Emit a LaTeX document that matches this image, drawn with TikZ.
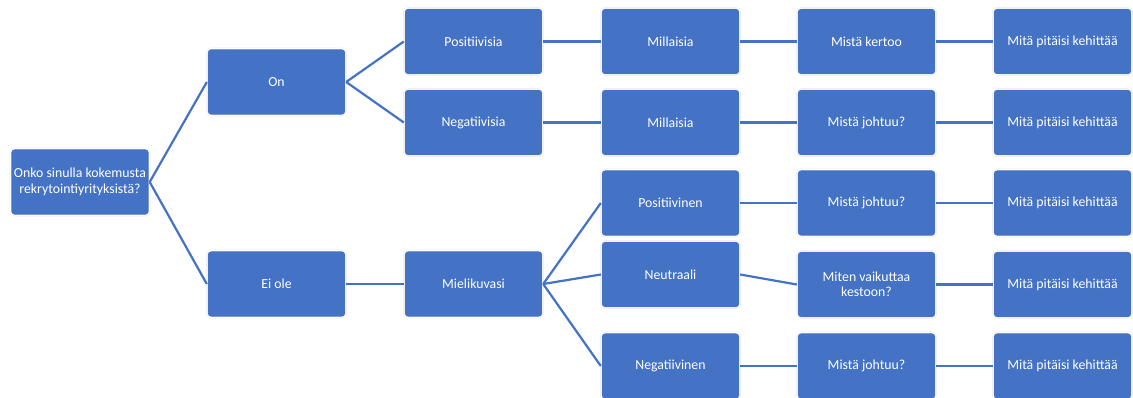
\documentclass[tikz,border=0pt]{standalone}
\usepackage{fontspec}
\setmainfont{Carlito}
\definecolor{boxblue}{HTML}{4472C4}
\tikzset{
    box/.style={rectangle, rounded corners=4pt, fill=boxblue, draw=gray!18, double=white, double distance=0.8pt,
        minimum width=139pt, minimum height=67pt, text=white, align=center, font=\fontsize{13.8}{15.5}\selectfont, inner sep=2pt},
    link/.style={draw=boxblue, line width=2.2pt}
}
\begin{document}
\begin{tikzpicture}[x=1pt, y=-1pt]
    \useasboundingbox (0, 0) rectangle (1133, 397);
    \node[box] (root) at (80, 182) {Onko sinulla kokemusta\\rekrytointiyrityksistä?};
    \node[box] (on) at (276.5, 82) {On};
    \node[box] (eiole) at (276.5, 284) {Ei ole};
    \node[box] (pos) at (473.5, 41.5) {Positiivisia};
    \node[box] (neg) at (473.5, 122.5) {Negatiivisia};
    \node[box] (mieli) at (473.5, 284) {Mielikuvasi};
    \node[box] (millpos) at (670.5, 41.5) {Millaisia};
    \node[box] (millneg) at (670.5, 122.5) {Millaisia};
    \node[box] (positiivinen) at (670.5, 203) {Positiivinen};
    \node[box] (neutraali) at (670.5, 274.5) {Neutraali};
    \node[box] (negatiivinen) at (670.5, 366) {Negatiivinen};
    \node[box] (kertoo) at (866.5, 41.5) {Mistä kertoo};
    \node[box] (johtuuneg) at (866.5, 122.5) {Mistä johtuu?};
    \node[box] (johtuupos) at (866.5, 203) {Mistä johtuu?};
    \node[box] (kesto) at (866.5, 284.5) {Miten vaikuttaa\\kestoon?};
    \node[box] (johtuuneg2) at (866.5, 366) {Mistä johtuu?};
    \node[box] (kehA) at (1062.5, 41.5) {Mitä pitäisi kehittää};
    \node[box] (kehB) at (1062.5, 122.5) {Mitä pitäisi kehittää};
    \node[box] (kehC) at (1062.5, 203) {Mitä pitäisi kehittää};
    \node[box] (kehD) at (1062.5, 284.5) {Mitä pitäisi kehittää};
    \node[box] (kehE) at (1062.5, 366) {Mitä pitäisi kehittää};
    % tree connectors
    \draw[link] (root.east) -- (on.west);
    \draw[link] (root.east) -- (eiole.west);
    \draw[link] (on.east) -- (pos.west);
    \draw[link] (on.east) -- (neg.west);
    \draw[link] (eiole.east) -- (mieli.west);
    \draw[link] (pos.east) -- (millpos.west);
    \draw[link] (neg.east) -- (millneg.west);
    \draw[link] (mieli.east) -- (positiivinen.west);
    \draw[link] (mieli.east) -- (neutraali.west);
    \draw[link] (mieli.east) -- (negatiivinen.west);
    \draw[link] (millpos.east) -- (kertoo.west);
    \draw[link] (millneg.east) -- (johtuuneg.west);
    \draw[link] (positiivinen.east) -- (johtuupos.west);
    \draw[link] (neutraali.east) -- (kesto.west);
    \draw[link] (negatiivinen.east) -- (johtuuneg2.west);
    \draw[link] (kertoo.east) -- (kehA.west);
    \draw[link] (johtuuneg.east) -- (kehB.west);
    \draw[link] (johtuupos.east) -- (kehC.west);
    \draw[link] (kesto.east) -- (kehD.west);
    \draw[link] (johtuuneg2.east) -- (kehE.west);
\end{tikzpicture}
\end{document}
